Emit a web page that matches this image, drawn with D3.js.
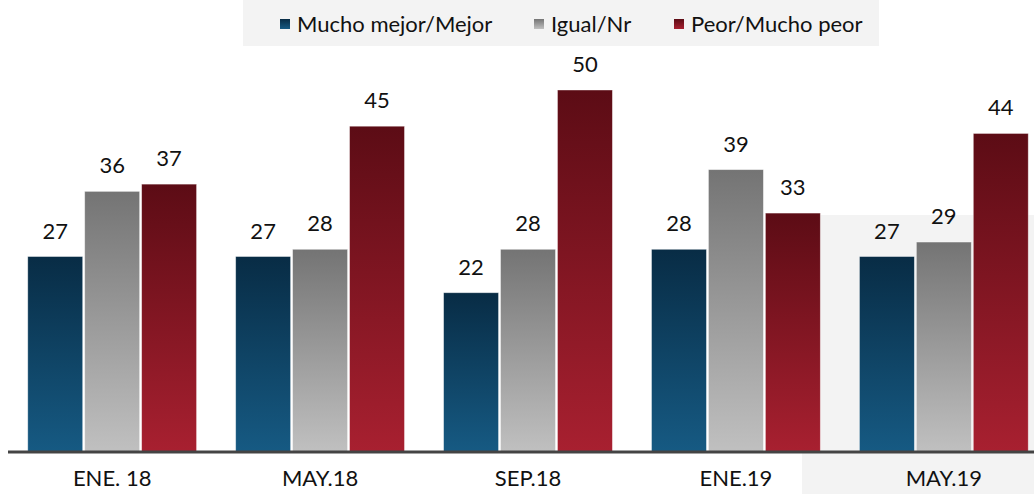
<!DOCTYPE html>
<html>
<head>
<meta charset="utf-8">
<script src="https://cdn.jsdelivr.net/npm/d3@7"></script>
<style>
  body { margin: 0; background: #fff; }
  svg text { font-family: Lato, "Open Sans", sans-serif; fill: #111; }
</style>
</head>
<body>
<svg id="chart" width="1034" height="494"></svg>
<script>
// periods on the x axis
var periods = ["ENE. 18", "MAY.18", "SEP.18", "ENE.19", "MAY.19"];
var series = ["Mucho mejor/Mejor", "Igual/Nr", "Peor/Mucho peor"];
var mejor = [27, 27, 22, 28, 27];
var igual = [36, 28, 28, 39, 29];
var peor  = [37, 45, 50, 33, 44];
var values = [mejor, igual, peor];

// gradient stops per series: top, bottom
var gradTop = ["#082c45", "#747474", "#5c0c15"];
var gradBot = ["#165a83", "#c0c0c0", "#a82030"];

var svg = d3.select("#chart");
var baseY = 452;

// faint background watermark
svg.append("rect").attr("x", 802).attr("y", 215).attr("width", 232).attr("height", 279).attr("fill", "#f3f3f3");

var defs = svg.append("defs");
series.forEach(function(s, i){
	var g = defs.append("linearGradient").attr("id", "grad" + i)
		.attr("x1", 0).attr("y1", 0).attr("x2", 0).attr("y2", 1);
	g.append("stop").attr("offset", "0%").attr("stop-color", gradTop[i]);
	g.append("stop").attr("offset", "100%").attr("stop-color", gradBot[i]);
});

var x0 = d3.scaleBand().domain(periods).range([8, 1048]).paddingInner(0.188).paddingOuter(0.095);
var x1 = d3.scaleBand().domain(d3.range(series.length)).range([0, x0.bandwidth()]).paddingInner(0.035);
var y = d3.scaleLinear().domain([0, 50]).range([baseY, 90]);

var groups = svg.selectAll(".grp").data(periods).enter().append("g")
	.attr("class", "grp")
	.attr("transform", function(d){ return "translate(" + x0(d) + ",0)"; });

function rows(d, pi){
	return series.map(function(s, si){ return {si: si, v: values[si][pi]}; });
}

groups.selectAll("rect.bar").data(rows).enter().append("rect")
	.attr("class", "bar")
	.attr("x", function(d){ return x1(d.si); })
	.attr("y", function(d){ return y(d.v); })
	.attr("width", x1.bandwidth())
	.attr("height", function(d){ return baseY - y(d.v); })
	.attr("fill", function(d){ return "url(#grad" + d.si + ")"; })
	.attr("stroke", "rgba(255,255,255,0.5)")
	.attr("stroke-width", 0.8);

groups.selectAll("text.val").data(rows).enter().append("text")
	.attr("class", "val")
	.attr("x", function(d){ return x1(d.si) + x1.bandwidth() / 2; })
	.attr("y", function(d){ return y(d.v) - 18; })
	.attr("text-anchor", "middle")
	.attr("font-size", 22)
	.text(function(d){ return d.v; });

// axis
var axis = svg.append("g").attr("transform", "translate(0," + baseY + ")")
	.call(d3.axisBottom(x0).tickSize(0).tickPadding(22));
axis.select(".domain").attr("d", "M8,0H1034").attr("stroke", "#444").attr("stroke-width", 3);
axis.selectAll("text").attr("font-size", 22).attr("fill", "#111").attr("dy", "0.55em")
	.style("font-family", "Lato, 'Open Sans', sans-serif");

// legend
var leg = svg.append("g");
leg.append("rect").attr("x", 243).attr("y", 0).attr("width", 636).attr("height", 46).attr("fill", "#f3f3f3");
var legX = [280, 534, 674];
series.forEach(function(s, i){
	leg.append("rect").attr("x", legX[i]).attr("y", 19).attr("width", 10).attr("height", 10)
		.attr("fill", "url(#grad" + i + ")");
	leg.append("text").attr("x", legX[i] + 17).attr("y", 32).attr("font-size", 22).text(s);
});
</script>
</body>
</html>
